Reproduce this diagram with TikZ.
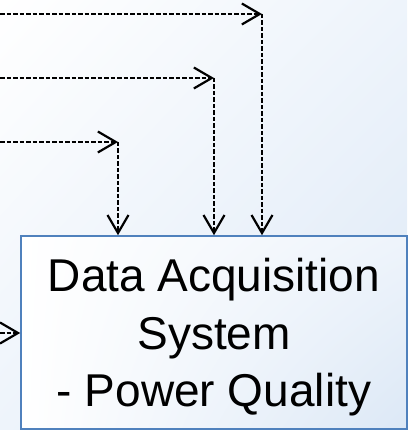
\documentclass[tikz,border=0pt]{standalone}
\usepackage{fontspec}
\setmainfont{Liberation Sans}
\usetikzlibrary{arrows.meta,shadings}
\definecolor{boxblue}{RGB}{79,129,189}
\definecolor{paleblue}{RGB}{220,232,246}
\definecolor{midblue}{RGB}{238,244,251}
\tikzset{
  x=1pt, y=1pt,
  signaltip/.tip={Straight Barb[length=18pt,width=21pt]},
  signal/.style={draw=black, line width=2.2pt, dash pattern=on 4.5pt off 2pt,
    -signaltip},
  daqbox/.style={draw=boxblue, line width=1.6pt, rectangle, inner sep=0pt,
    minimum width=386pt, minimum height=193pt},
  daqlabel/.style={align=center, inner sep=0pt,
    font=\fontsize{46}{57.5}\selectfont}
}
\begin{document}
\begin{tikzpicture}
  % page background with a soft diagonal gradient
  \useasboundingbox (0,0) rectangle (407,430);
  \shade[upper left=white, upper right=midblue, lower left=midblue,
         lower right=paleblue] (0,0) rectangle (407,430);

  % acquisition block
  \shade[upper left=white, upper right=midblue, lower left=white,
         lower right=paleblue] (21,1) rectangle (407,194);
  \node[daqbox] (daq) at (214,97.5) {};
  \node[daqlabel, anchor=base] (daqtext) at (214,23.3)
    {Data Acquisition\\System\\- Power Quality};

  % incoming signal lines
  \coordinate (s1) at (0,416);
  \coordinate (s2) at (0,352);
  \coordinate (s3) at (0,288);
  \coordinate (s4) at (0,97);
  \coordinate (k1) at (262,416);
  \coordinate (k2) at (214,352);
  \coordinate (k3) at (118,288);

  \path[signal] (s1) -- (k1);
  \path[signal] (k1) -- (k1 |- daq.north);
  \path[signal] (s2) -- (k2);
  \path[signal] (k2) -- (k2 |- daq.north);
  \path[signal] (s3) -- (k3);
  \path[signal] (k3) -- (k3 |- daq.north);
  \path[signal] (s4) -- (daq.west |- s4);
\end{tikzpicture}
\end{document}
